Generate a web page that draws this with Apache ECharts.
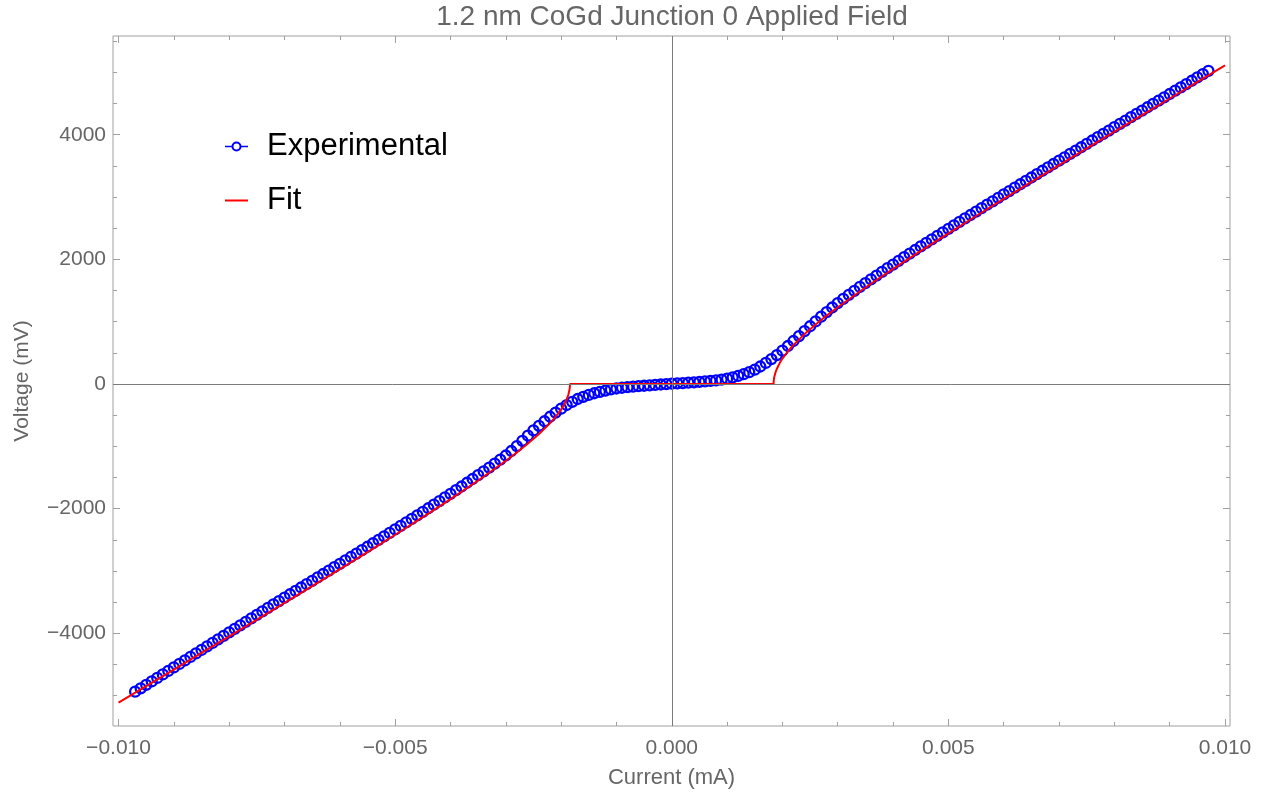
<!DOCTYPE html>
<html>
<head>
<meta charset="utf-8">
<title>1.2 nm CoGd Junction 0 Applied Field</title>
<script src="https://cdn.jsdelivr.net/npm/echarts@6/dist/echarts.min.js"></script>
<style>
  html, body { margin: 0; padding: 0; background: #ffffff; }
  #chart { width: 1266px; height: 795px; }
</style>
</head>
<body>
<div id="chart"></div>
<script>
// Measured I-V sweep: current in mA, voltage in mV
const currents = [
  -0.0097, -0.0096, -0.0095, -0.0094, -0.0093, -0.0092, -0.0091, -0.0090, -0.0089, -0.0088,
  -0.0087, -0.0086, -0.0085, -0.0084, -0.0083, -0.0082, -0.0081, -0.0080, -0.0079, -0.0078,
  -0.0077, -0.0076, -0.0075, -0.0074, -0.0073, -0.0072, -0.0071, -0.0070, -0.0069, -0.0068,
  -0.0067, -0.0066, -0.0065, -0.0064, -0.0063, -0.0062, -0.0061, -0.0060, -0.0059, -0.0058,
  -0.0057, -0.0056, -0.0055, -0.0054, -0.0053, -0.0052, -0.0051, -0.0050, -0.0049, -0.0048,
  -0.0047, -0.0046, -0.0045, -0.0044, -0.0043, -0.0042, -0.0041, -0.0040, -0.0039, -0.0038,
  -0.0037, -0.0036, -0.0035, -0.0034, -0.0033, -0.0032, -0.0031, -0.0030, -0.0029, -0.0028,
  -0.0027, -0.0026, -0.0025, -0.0024, -0.0023, -0.0022, -0.0021, -0.0020, -0.0019, -0.0018,
  -0.0017, -0.0016, -0.0015, -0.0014, -0.0013, -0.0012, -0.0011, -0.0010, -0.0009, -0.0008,
  -0.0007, -0.0006, -0.0005, -0.0004, -0.0003, -0.0002, -0.0001,
  0.0000,
  0.0001, 0.0002, 0.0003, 0.0004, 0.0005, 0.0006, 0.0007, 0.0008, 0.0009, 0.0010,
  0.0011, 0.0012, 0.0013, 0.0014, 0.0015, 0.0016, 0.0017, 0.0018, 0.0019, 0.0020,
  0.0021, 0.0022, 0.0023, 0.0024, 0.0025, 0.0026, 0.0027, 0.0028, 0.0029, 0.0030,
  0.0031, 0.0032, 0.0033, 0.0034, 0.0035, 0.0036, 0.0037, 0.0038, 0.0039, 0.0040,
  0.0041, 0.0042, 0.0043, 0.0044, 0.0045, 0.0046, 0.0047, 0.0048, 0.0049, 0.0050,
  0.0051, 0.0052, 0.0053, 0.0054, 0.0055, 0.0056, 0.0057, 0.0058, 0.0059, 0.0060,
  0.0061, 0.0062, 0.0063, 0.0064, 0.0065, 0.0066, 0.0067, 0.0068, 0.0069, 0.0070,
  0.0071, 0.0072, 0.0073, 0.0074, 0.0075, 0.0076, 0.0077, 0.0078, 0.0079, 0.0080,
  0.0081, 0.0082, 0.0083, 0.0084, 0.0085, 0.0086, 0.0087, 0.0088, 0.0089, 0.0090,
  0.0091, 0.0092, 0.0093, 0.0094, 0.0095, 0.0096, 0.0097
];

const voltages = [
  -4937, -4882, -4827, -4771, -4715, -4659, -4603, -4547, -4491, -4435,
  -4379, -4323, -4266, -4210, -4154, -4097, -4041, -3985, -3928, -3872,
  -3815, -3759, -3703, -3647, -3592, -3537, -3482, -3427, -3373, -3319,
  -3265, -3211, -3157, -3103, -3048, -2994, -2939, -2885, -2830, -2775,
  -2721, -2666, -2611, -2555, -2500, -2444, -2389, -2333, -2277, -2221,
  -2165, -2107, -2050, -1993, -1936, -1878, -1820, -1762, -1703, -1644,
  -1584, -1524, -1463, -1402, -1340, -1276, -1212, -1147, -1075, -995,
  -912, -829, -745, -670, -597, -525, -458, -395, -337, -285,
  -240, -205, -175, -148, -125, -105, -87, -72, -60, -50,
  -42, -35, -28, -22, -15, -8, -2,
  5,
  10, 15, 21, 27, 34, 41, 49, 58, 70, 86,
  106, 130, 158, 190, 231, 281, 338, 400, 465, 535,
  610, 690, 770, 849, 927, 1004, 1080, 1155, 1228, 1298,
  1365, 1431, 1495, 1558, 1619, 1680, 1740, 1799, 1858, 1917,
  1977, 2035, 2093, 2150, 2207, 2264, 2321, 2378, 2434, 2490,
  2546, 2601, 2657, 2712, 2767, 2823, 2878, 2932, 2987, 3042,
  3096, 3151, 3205, 3260, 3314, 3368, 3422, 3476, 3530, 3584,
  3638, 3692, 3746, 3799, 3853, 3907, 3960, 4014, 4067, 4121,
  4174, 4227, 4281, 4334, 4387, 4441, 4494, 4547, 4600, 4653,
  4706, 4759, 4812, 4866, 4919, 4972, 5025
];

// Fitted junction curve (zero-voltage branch between the critical currents)
const fitCurrents = [
  -0.0100, -0.0095, -0.0090, -0.0085, -0.0080, -0.0075, -0.0070, -0.0065, -0.0060, -0.0055,
  -0.0050, -0.0045, -0.0040, -0.0035, -0.0030, -0.0028, -0.0026, -0.0024, -0.0022, -0.0021,
  -0.0020, -0.00195, -0.0019, -0.00187, -0.00185, -0.001845, -0.001842, -0.00184,
  0.00184, 0.001842, 0.001845, 0.00185, 0.00187, 0.0019, 0.00195, 0.0020,
  0.0021, 0.0022, 0.0024, 0.0026, 0.0028, 0.0030, 0.0035, 0.0040, 0.0045, 0.0050,
  0.0055, 0.0060, 0.0065, 0.0070, 0.0075, 0.0080, 0.0085, 0.0090, 0.0095, 0.0100
];
const fitVoltages = [
  -5111, -4847, -4581, -4315, -4049, -3781, -3512, -3242, -2970, -2696,
  -2418, -2135, -1847, -1548, -1232, -1098, -955, -801, -627, -526,
  -408, -336, -246, -173, -100, -71, -45, 0,
  0, 45, 71, 100, 173, 246, 336, 408,
  526, 627, 801, 955, 1098, 1232, 1548, 1847, 2135, 2418,
  2696, 2970, 3242, 3512, 3781, 4049, 4315, 4581, 4847, 5111
];

// Tick positions
const xMajorTicks = [-0.010, -0.005, 0.000, 0.005, 0.010];
const xMinorTicks = [
  -0.010, -0.009, -0.008, -0.007, -0.006, -0.005, -0.004, -0.003, -0.002, -0.001,
  0.000, 0.001, 0.002, 0.003, 0.004, 0.005, 0.006, 0.007, 0.008, 0.009, 0.010
];
const yMajorTicks = [-4000, -2000, 0, 2000, 4000];
const yMinorTicks = [
  -5500, -5000, -4500, -4000, -3500, -3000, -2500, -2000, -1500, -1000, -500,
  0, 500, 1000, 1500, 2000, 2500, 3000, 3500, 4000, 4500, 5000, 5500
];

const X_MIN = -0.0101, X_MAX = 0.01009;
const Y_MIN = -5487, Y_MAX = 5584;

const FONT = '"Liberation Sans", Arial, Helvetica, sans-serif';
const TEXT_GRAY = '#666666';
const FRAME_GRAY = '#a0a0a0';
const MINUS = '\u2212';

function fmtX(v) {
  const s = Math.abs(v).toFixed(3);
  return v < -1e-12 ? MINUS + s : s;
}
function fmtY(v) {
  return v < 0 ? MINUS + Math.abs(v) : String(v);
}

function tickAxis(kind, position, ticks, len, withLabels) {
  const ax = {
    type: 'value',
    position: position,
    min: kind === 'x' ? X_MIN : Y_MIN,
    max: kind === 'x' ? X_MAX : Y_MAX,
    axisLine: { show: false, onZero: false },
    splitLine: { show: false },
    axisTick: {
      show: true,
      inside: true,
      length: len,
      customValues: ticks,
      lineStyle: { color: FRAME_GRAY, width: 1 }
    },
    axisLabel: { show: false }
  };
  if (withLabels) {
    ax.axisLabel = {
      show: true,
      customValues: ticks,
      formatter: kind === 'x' ? fmtX : fmtY,
      color: TEXT_GRAY,
      fontSize: 21,
      fontFamily: FONT,
      margin: kind === 'x' ? 12 : 7
    };
  }
  return ax;
}

const xBottom = tickAxis('x', 'bottom', xMajorTicks, 7, true);
xBottom.name = 'Current (mA)';
xBottom.nameLocation = 'middle';
xBottom.nameGap = 41;
xBottom.nameTextStyle = { color: TEXT_GRAY, fontSize: 22, fontFamily: FONT };

const yLeft = tickAxis('y', 'left', yMajorTicks, 7, true);
yLeft.name = 'Voltage (mV)';
yLeft.nameLocation = 'middle';
yLeft.nameGap = 80;
yLeft.nameTextStyle = { color: TEXT_GRAY, fontSize: 21, fontFamily: FONT };

const chart = echarts.init(document.getElementById('chart'), null, { renderer: 'canvas' });

const option = {
  animation: false,
  backgroundColor: '#ffffff',
  title: {
    text: '1.2 nm CoGd Junction 0 Applied Field',
    left: 672,
    top: 3,
    padding: 0,
    textAlign: 'center',
    textStyle: { color: TEXT_GRAY, fontSize: 28, fontWeight: 'normal', fontFamily: FONT }
  },
  grid: {
    left: 113, right: 36, top: 36, bottom: 69,
    show: true,
    borderColor: FRAME_GRAY,
    borderWidth: 1,
    backgroundColor: 'transparent',
    outerBoundsMode: 'none'
  },
  legend: {
    orient: 'vertical',
    left: 224,
    top: 131,
    padding: 0,
    itemGap: 23,
    itemWidth: 23,
    itemHeight: 10,
    textStyle: { color: '#000000', fontSize: 31, fontFamily: FONT, lineHeight: 31, padding: [0, 0, 0, 14] },
    data: [
      {
        name: 'Experimental',
        itemStyle: { color: '#ffffff', borderColor: '#0000ff', borderWidth: 2 },
        lineStyle: { color: '#0000ff', width: 1.5, opacity: 1 }
      },
      {
        name: 'Fit',
        itemStyle: { opacity: 0 },
        lineStyle: { color: '#ff0000', width: 2 }
      }
    ]
  },
  xAxis: [
    xBottom,
    tickAxis('x', 'bottom', xMinorTicks, 4, false),
    tickAxis('x', 'top', xMajorTicks, 7, false),
    tickAxis('x', 'top', xMinorTicks, 4, false)
  ],
  yAxis: [
    yLeft,
    tickAxis('y', 'left', yMinorTicks, 4, false),
    tickAxis('y', 'right', yMajorTicks, 7, false),
    tickAxis('y', 'right', yMinorTicks, 4, false)
  ],
  series: [
    {
      // zero lines through the origin
      name: 'axes',
      type: 'line',
      data: [],
      silent: true,
      z: 1,
      markLine: {
        silent: true,
        symbol: 'none',
        animation: false,
        label: { show: false },
        lineStyle: { color: '#7a7a7a', width: 1, type: 'solid' },
        emphasis: { disabled: true },
        data: [{ xAxis: 0 }, { yAxis: 0 }]
      }
    },
    {
      name: 'Experimental',
      type: 'line',
      data: currents.map((c, i) => [c, voltages[i]]),
      symbol: 'circle',
      symbolSize: 10,
      showSymbol: true,
      showAllSymbol: true,
      lineStyle: { width: 0, opacity: 0 },
      itemStyle: { color: 'rgba(0,0,0,0)', borderColor: '#0000ff', borderWidth: 2.3 },
      emphasis: { disabled: true },
      z: 2
    },
    {
      name: 'Fit',
      type: 'line',
      data: fitCurrents.map((c, i) => [c, fitVoltages[i]]),
      symbol: 'none',
      lineStyle: { color: '#ff0000', width: 2 },
      itemStyle: { color: '#ff0000' },
      emphasis: { disabled: true },
      z: 3
    }
  ]
};

chart.setOption(option);
</script>
</body>
</html>
